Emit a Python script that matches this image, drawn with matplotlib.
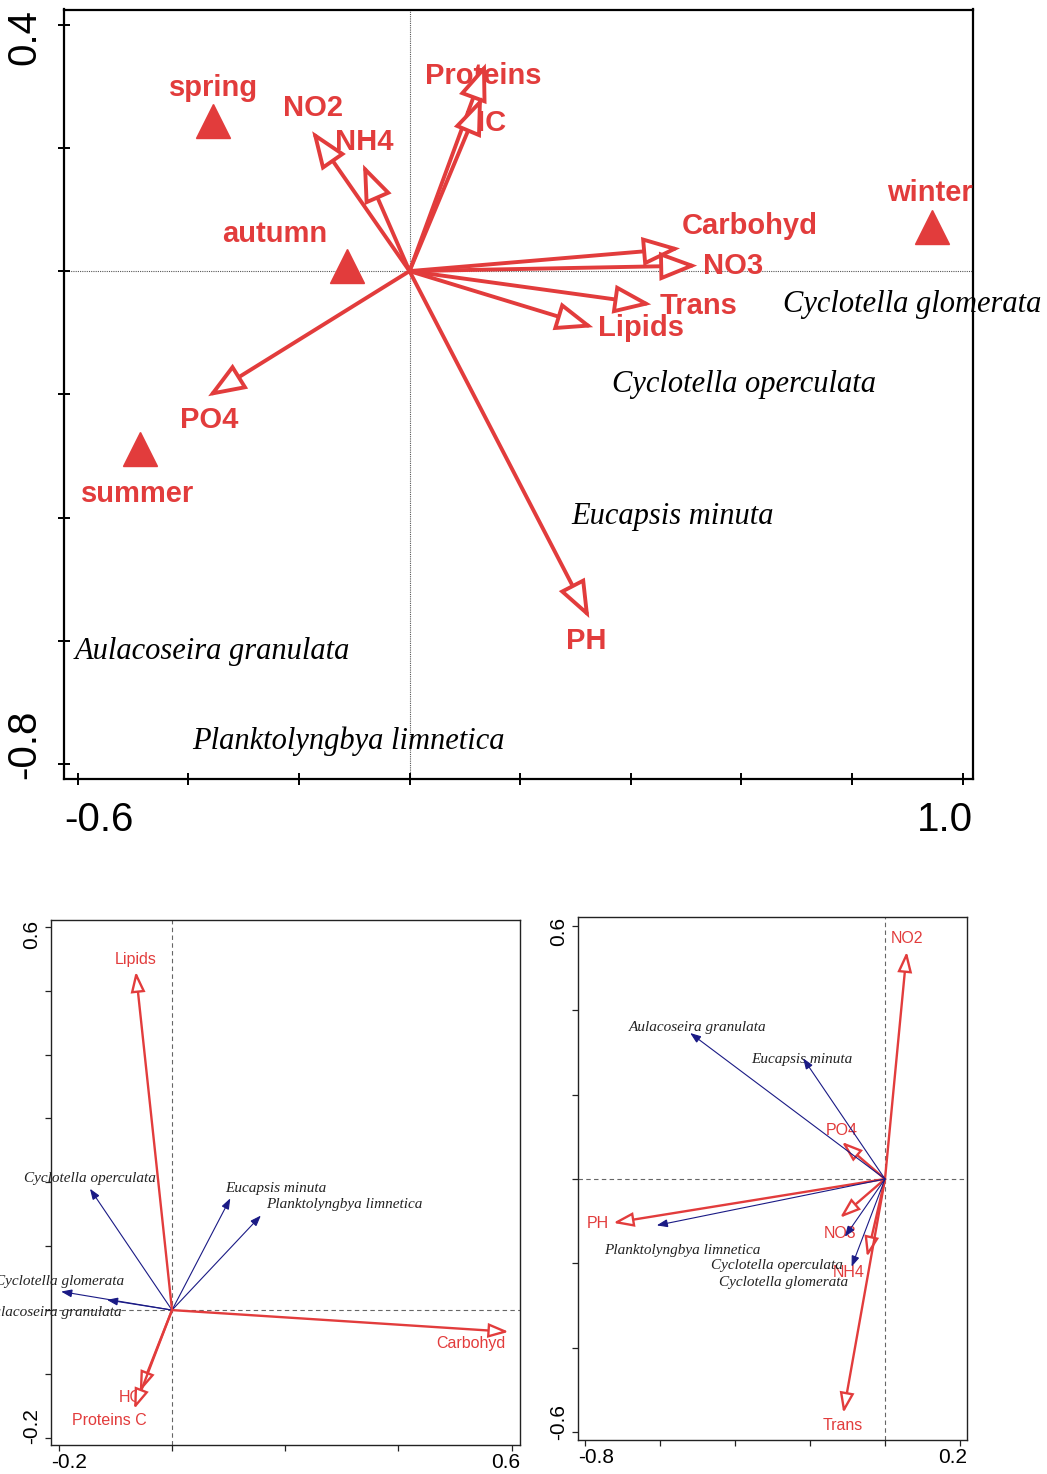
import matplotlib
matplotlib.use("Agg")
import matplotlib.pyplot as plt

RED = "#E23C3C"
BLUE = "#1A1A85"
SANS = "Liberation Sans"
SERIF = "Liberation Serif"

# ---------------- top panel data ----------------
top_env = ["NO2", "NH4", "Proteins", "HC", "Carbohyd", "NO3", "Trans", "Lipids", "PO4", "PH"]
top_env_x = [-0.176, -0.084, 0.138, 0.131, 0.489, 0.520, 0.437, 0.332, -0.364, 0.325]
top_env_y = [0.227, 0.173, 0.337, 0.282, 0.037, 0.009, -0.054, -0.091, -0.203, -0.563]
top_env_lab_x = [-0.175, -0.082, 0.133, 0.137, 0.615, 0.585, 0.523, 0.418, -0.363, 0.319]
top_env_lab_y = [0.264, 0.210, 0.317, 0.240, 0.074, 0.008, -0.056, -0.093, -0.241, -0.600]

seasons = ["spring", "summer", "autumn", "winter"]
season_x = [-0.355, -0.487, -0.113, 0.945]
season_y = [0.244, -0.288, 0.009, 0.071]
season_lab_x = [-0.355, -0.491, -0.243, 0.941]
season_lab_y = [0.298, -0.362, 0.061, 0.126]

top_species = ["Cyclotella glomerata", "Cyclotella operculata", "Eucapsis minuta",
               "Aulacoseira granulata", "Planktolyngbya limnetica"]
top_species_x = [0.909, 0.605, 0.475, -0.357, -0.111]
top_species_y = [-0.054, -0.184, -0.399, -0.618, -0.763]

top_xticks = [-0.6, -0.4, -0.2, 0.0, 0.2, 0.4, 0.6, 0.8, 1.0]
top_yticks = [-0.8, -0.6, -0.4, -0.2, 0.0, 0.2, 0.4]
top_xlabels = ["-0.6", "1.0"]
top_ylabels = ["0.4", "-0.8"]

# ---------------- bottom-left panel data ----------------
bl_env = ["Lipids", "Carbohyd", "HC", "Proteins C"]
bl_env_x = [-0.064, 0.595, -0.057, -0.067]
bl_env_y = [0.530, -0.034, -0.128, -0.155]
bl_env_lab_x = [-0.065, 0.528, -0.074, -0.111]
bl_env_lab_y = [0.549, -0.053, -0.137, -0.173]

bl_species = ["Cyclotella operculata", "Eucapsis minuta", "Planktolyngbya limnetica",
              "Cyclotella glomerata", "Aulacoseira granulata"]
bl_species_x = [-0.145, 0.103, 0.157, -0.196, -0.115]
bl_species_y = [0.190, 0.175, 0.148, 0.029, 0.016]
bl_species_lab_x = [-0.145, 0.184, 0.304, -0.198, -0.209]
bl_species_lab_y = [0.206, 0.191, 0.165, 0.045, -0.003]

bl_xticks = [-0.2, 0.0, 0.2, 0.4, 0.6]
bl_yticks = [-0.2, -0.1, 0.0, 0.1, 0.2, 0.3, 0.4, 0.5, 0.6]
bl_xlabels = ["-0.2", "0.6"]
bl_ylabels = ["0.6", "-0.2"]

# ---------------- bottom-right panel data ----------------
br_env = ["NO2", "PO4", "PH", "NO3", "NH4", "Trans"]
br_env_x = [0.058, -0.115, -0.724, -0.120, -0.048, -0.111]
br_env_y = [0.539, 0.088, -0.104, -0.092, -0.185, -0.555]
br_env_lab_x = [0.058, -0.115, -0.764, -0.120, -0.098, -0.113]
br_env_lab_y = [0.570, 0.116, -0.106, -0.128, -0.221, -0.584]

br_species = ["Aulacoseira granulata", "Eucapsis minuta", "Planktolyngbya limnetica",
              "Cyclotella operculata", "Cyclotella glomerata"]
br_species_x = [-0.519, -0.218, -0.608, -0.107, -0.089]
br_species_y = [0.346, 0.286, -0.110, -0.137, -0.208]
br_species_lab_x = [-0.500, -0.222, -0.541, -0.287, -0.269]
br_species_lab_y = [0.360, 0.284, -0.170, -0.205, -0.246]

br_xticks = [-0.8, -0.6, -0.4, -0.2, 0.0, 0.2]
br_yticks = [-0.6, -0.4, -0.2, 0.0, 0.2, 0.4, 0.6]
br_xlabels = ["-0.8", "0.2"]
br_ylabels = ["0.6", "-0.6"]

W, H = 1047, 1474
fig = plt.figure(figsize=(W / 100, H / 100), dpi=100)


def add_axes_px(l, t, r, b):
    return fig.add_axes([l / W, 1 - b / H, (r - l) / W, (b - t) / H])


def arrow(ax, x, y, color, lw, hl, hw, fc, z=3):
    ax.annotate("", xy=(x, y), xytext=(0, 0), xycoords="data",
                arrowprops=dict(arrowstyle=f"-|>,head_length={hl},head_width={hw}",
                                mutation_scale=1, color=color, fc=fc, ec=color, lw=lw,
                                shrinkA=0, shrinkB=0, joinstyle="miter"),
                zorder=z, annotation_clip=False)


def end_labels(ax, xlabels, ylabels, size, xgap, ygap):
    kw = dict(fontsize=size, family=SANS, xycoords="axes fraction",
              textcoords="offset points", annotation_clip=False)
    ax.annotate(xlabels[0], xy=(0, 0), xytext=(0, -xgap), ha="left", va="top", **kw)
    ax.annotate(xlabels[1], xy=(1, 0), xytext=(0, -xgap), ha="right", va="top", **kw)
    ax.annotate(ylabels[0], xy=(0, 1), xytext=(-ygap, 0), ha="right", va="top",
                rotation=90, **kw)
    ax.annotate(ylabels[1], xy=(0, 0), xytext=(-ygap, 0), ha="right", va="bottom",
                rotation=90, **kw)


# ================= TOP PANEL =================
ax = add_axes_px(64, 9.5, 973, 779)
ax.set_xlim(-0.6247, 1.0188)
ax.set_ylim(-0.8243, 0.4246)
ax.axhline(0, color="#555555", lw=0.8, ls=(0, (1, 1)), zorder=1)
ax.axvline(0, color="#555555", lw=0.8, ls=(0, (1, 1)), zorder=1)
ax.set_xticks(top_xticks)
ax.set_yticks(top_yticks)
ax.set_xticklabels([])
ax.set_yticklabels([])
ax.tick_params(direction="inout", length=9, width=1.4, color="black")
for s in ax.spines.values():
    s.set_linewidth(1.6)
    s.set_color("black")

for name, lx, ly in zip(top_env, top_env_lab_x, top_env_lab_y):
    ax.text(lx, ly, name, color=RED, fontsize=21, fontweight="bold", family=SANS,
            ha="center", va="center", zorder=2)
for x, y in zip(top_env_x, top_env_y):
    arrow(ax, x, y, RED, 2.8, 22, 8.5, "white")

ax.plot(season_x, season_y, ls="none", marker="^", ms=24, color=RED, mec=RED, zorder=3)
for name, lx, ly in zip(seasons, season_lab_x, season_lab_y):
    ax.text(lx, ly, name, color=RED, fontsize=21, fontweight="bold", family=SANS,
            ha="center", va="center", zorder=4, clip_on=False)
for name, x, y in zip(top_species, top_species_x, top_species_y):
    ax.text(x, y, name, color="black", fontsize=22, style="italic", family=SERIF,
            ha="center", va="center", zorder=4, clip_on=False)
end_labels(ax, top_xlabels, top_ylabels, 29, 16, 15)

# ================= BOTTOM-LEFT PANEL =================
ax = add_axes_px(51, 920, 520, 1444.5)
ax.set_xlim(-0.2138, 0.6148)
ax.set_ylim(-0.2104, 0.6106)
ax.axhline(0, color="#666666", lw=0.8, ls=(0, (4, 3)), zorder=1)
ax.axvline(0, color="#666666", lw=0.8, ls=(0, (4, 3)), zorder=1)
ax.set_xticks(bl_xticks)
ax.set_yticks(bl_yticks)
ax.set_xticklabels([])
ax.set_yticklabels([])
ax.tick_params(direction="out", length=4, width=0.9, color="#222222")
for s in ax.spines.values():
    s.set_linewidth(1.0)
    s.set_color("#222222")

for name, lx, ly in zip(bl_env, bl_env_lab_x, bl_env_lab_y):
    ax.text(lx, ly, name, color=RED, fontsize=11.5, family=SANS,
            ha="center", va="center", zorder=2)
for name, lx, ly in zip(bl_species, bl_species_lab_x, bl_species_lab_y):
    ax.text(lx, ly, name, color="#222222", fontsize=11, style="italic", family=SERIF,
            ha="center", va="center", zorder=2, clip_on=False)
for x, y in zip(bl_species_x, bl_species_y):
    arrow(ax, x, y, BLUE, 0.8, 6.5, 2.4, BLUE)
for x, y in zip(bl_env_x, bl_env_y):
    arrow(ax, x, y, RED, 1.7, 12, 4.2, "white")
end_labels(ax, bl_xlabels, bl_ylabels, 15, 6, 7)

# ================= BOTTOM-RIGHT PANEL =================
ax = add_axes_px(578.3, 917.3, 966.7, 1440)
ax.set_xlim(-0.8168, 0.2176)
ax.set_ylim(-0.6185, 0.6201)
ax.axhline(0, color="#666666", lw=0.8, ls=(0, (4, 3)), zorder=1)
ax.axvline(0, color="#666666", lw=0.8, ls=(0, (4, 3)), zorder=1)
ax.set_xticks(br_xticks)
ax.set_yticks(br_yticks)
ax.set_xticklabels([])
ax.set_yticklabels([])
ax.tick_params(direction="out", length=4, width=0.9, color="#222222")
for s in ax.spines.values():
    s.set_linewidth(1.0)
    s.set_color("#222222")

for name, lx, ly in zip(br_env, br_env_lab_x, br_env_lab_y):
    ax.text(lx, ly, name, color=RED, fontsize=11.5, family=SANS,
            ha="center", va="center", zorder=2)
for name, lx, ly in zip(br_species, br_species_lab_x, br_species_lab_y):
    ax.text(lx, ly, name, color="#222222", fontsize=11, style="italic", family=SERIF,
            ha="center", va="center", zorder=2, clip_on=False)
for x, y in zip(br_env_x, br_env_y):
    arrow(ax, x, y, RED, 1.7, 12, 4.2, "white")
for x, y in zip(br_species_x, br_species_y):
    arrow(ax, x, y, BLUE, 0.8, 6.5, 2.4, BLUE)
end_labels(ax, br_xlabels, br_ylabels, 15, 6, 7)

fig.savefig("out.png", dpi=100)
